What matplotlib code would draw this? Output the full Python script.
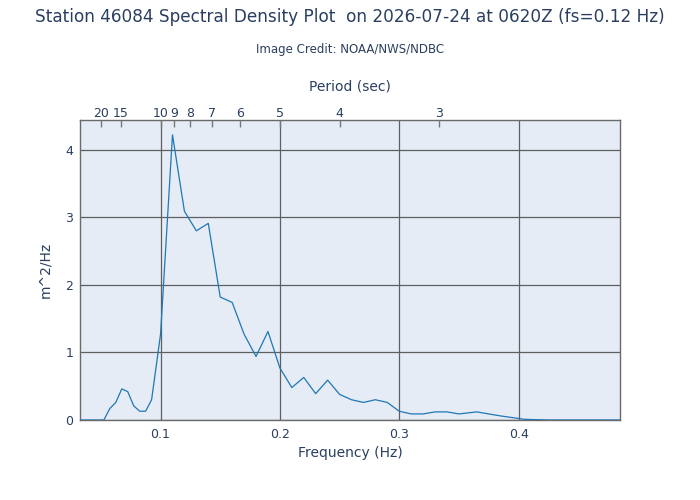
import matplotlib
matplotlib.use("Agg")
import matplotlib.pyplot as plt

# spectral density
freq = [0.0325, 0.0375, 0.0425, 0.0475, 0.0525, 0.0575, 0.0625, 0.0675,
        0.0725, 0.0775, 0.0825, 0.0875, 0.0925, 0.100, 0.110, 0.120,
        0.130, 0.140, 0.150, 0.160, 0.170, 0.180, 0.190, 0.200, 0.210,
        0.220, 0.230, 0.240, 0.250, 0.260, 0.270, 0.280, 0.290, 0.300,
        0.310, 0.320, 0.330, 0.340, 0.350, 0.365, 0.385, 0.405, 0.425,
        0.445, 0.465, 0.485]
density = [0.0, 0.0, 0.0, 0.0, 0.0, 0.17, 0.26, 0.46,
           0.42, 0.21, 0.13, 0.13, 0.30, 1.27, 4.22, 3.09,
           2.80, 2.91, 1.82, 1.74, 1.27, 0.94, 1.31, 0.77, 0.48,
           0.63, 0.39, 0.59, 0.38, 0.30, 0.26, 0.30, 0.26, 0.13,
           0.09, 0.09, 0.12, 0.12, 0.09, 0.12, 0.06, 0.01, 0.0,
           0.0, 0.0, 0.0]

freq_ticks = [0.1, 0.2, 0.3, 0.4]
density_ticks = [0, 1, 2, 3, 4]
periods = [20, 15, 10, 9, 8, 7, 6, 5, 4, 3]

TEXT = "#2a3f5f"
GRID = "#5f5f5f"
BG = "#e5ecf6"

fig = plt.figure(figsize=(7, 5), dpi=100)
ax = fig.add_axes([80 / 700, 80 / 500, 540 / 700, 300 / 500])
ax.set_facecolor(BG)

ax.plot(freq, density, color="#1f77b4", lw=0.9, zorder=3)

ax.set_xlim(freq[0], freq[-1])
ax.set_ylim(0, 4.44)
ax.set_xticks(freq_ticks)
ax.set_xticklabels([f"{t:g}" for t in freq_ticks])
ax.set_yticks(density_ticks)
ax.grid(True, color=GRID, lw=0.9)
ax.set_axisbelow(True)
ax.tick_params(axis="x", length=0, labelsize=9, labelcolor=TEXT, pad=6)
ax.tick_params(axis="y", length=0, labelsize=9, labelcolor=TEXT, pad=5)
for s in ax.spines.values():
    s.set_color("#6a6a6a")
    s.set_linewidth(1)

ax.set_xlabel("Frequency (Hz)", fontsize=10, color=TEXT, labelpad=3)
ax.set_ylabel("m^2/Hz", fontsize=10, color=TEXT, labelpad=9)

# period axis on top
top = ax.twiny()
top.set_xlim(ax.get_xlim())
top.set_xticks([1 / p for p in periods])
top.set_xticklabels([str(p) for p in periods])
top.tick_params(axis="x", direction="in", length=5, width=1, color="#777777",
                labelsize=9, labelcolor=TEXT, pad=0)
for s in top.spines.values():
    s.set_visible(False)
top.set_xlabel("Period (sec)", fontsize=10, color=TEXT, labelpad=12)

fig.text(0.5, 1 - 17 / 500, "Station 46084 Spectral Density Plot  on 2026-07-24 at 0620Z (fs=0.12 Hz)",
         ha="center", va="center", fontsize=12.2, color=TEXT)
fig.text(0.5, 1 - 50 / 500, "Image Credit: NOAA/NWS/NDBC",
         ha="center", va="center", fontsize=8.5, color=TEXT)

fig.savefig("out.png", dpi=100, facecolor="white")
